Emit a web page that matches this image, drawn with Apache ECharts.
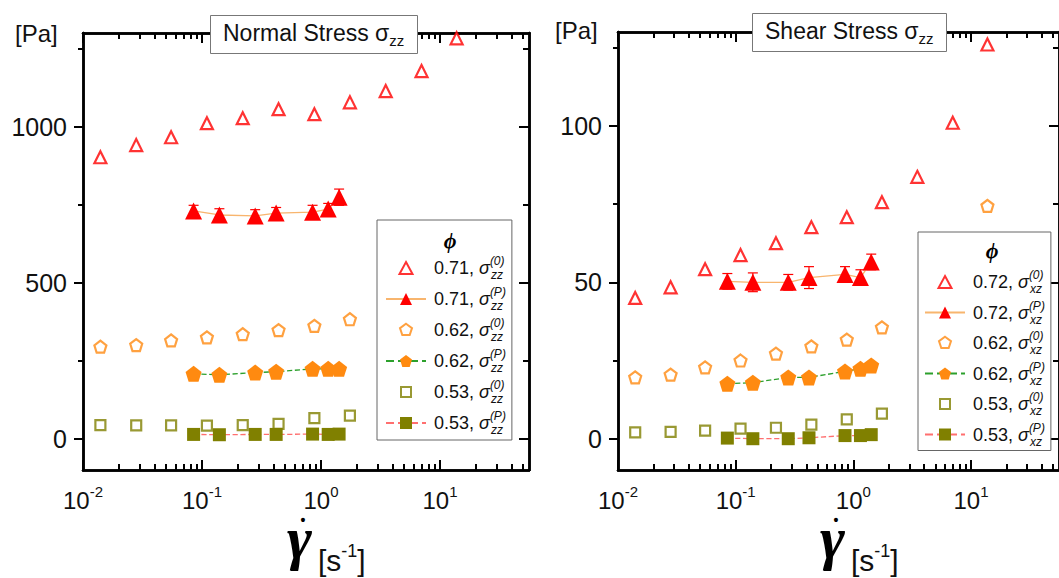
<!DOCTYPE html>
<html>
<head>
<meta charset="utf-8">
<script src="https://cdn.jsdelivr.net/npm/echarts@6/dist/echarts.min.js"></script>
<style>
html, body { margin: 0; padding: 0; background: #fff; }
#chart { width: 1059px; height: 578px; }
</style>
</head>
<body>
<div id="chart"></div>
<script>
// shear rate of the sweep points and of the pre-sheared points [1/s]
var rateSweep = [0.014, 0.028, 0.055, 0.11, 0.22, 0.44, 0.88, 1.75, 3.5, 7.0, 13.8];
var ratePre = [0.085, 0.14, 0.28, 0.42, 0.85, 1.15, 1.42];
var rateSweepXz62 = [0.014, 0.028, 0.055, 0.11, 0.22, 0.44, 0.88, 1.75, 13.8];

// normal stress sigma_zz [Pa]
var zz71Sweep = [902, 941, 966, 1011, 1027, 1056, 1040, 1078, 1114, 1178, 1283];
var zz71Pre = [730, 717, 714, 723, 726, 736, 774];
var zz71PreErr = [18, 20, 20, 18, 22, 18, 26];
var zz62Sweep = [295, 300, 315, 325, 335, 348, 362, 383];
var zz62Pre = [208, 205, 212, 215, 224, 224, 224];
var zz53Sweep = [44, 43, 43, 42, 44, 48, 66, 74];
var zz53Pre = [14, 13, 14, 14, 15, 14, 15];

// shear stress sigma_xz [Pa]
var xz72Sweep = [45, 48.4, 54.2, 58.7, 62.5, 67.6, 70.8, 75.6, 83.7, 101, 126];
var xz72Pre = [50.3, 50, 50, 51.5, 52.5, 51.5, 56.5];
var xz72PreErr = [2.5, 3, 2.5, 3.5, 2.5, 2.5, 2.5];
var xz62Sweep = [19.6, 20.5, 22.8, 25, 27.2, 29.5, 31.7, 35.6, 74.4];
var xz62Pre = [17.6, 17.9, 19.6, 19.6, 21.5, 22.4, 23.4];
var xz53Sweep = [2.0, 2.2, 2.6, 3.2, 3.5, 4.5, 6.2, 8.0];
var xz53Pre = [0.2, 0, 0, 0.3, 1.0, 1.0, 1.3];

// axis ticks
var decadeTicks = [0.01, 0.1, 1, 10];
var decadeMinor = [0.02, 0.03, 0.04, 0.05, 0.06, 0.07, 0.08, 0.09,
                   0.2, 0.3, 0.4, 0.5, 0.6, 0.7, 0.8, 0.9,
                   2, 3, 4, 5, 6, 7, 8, 9, 20, 30, 40, 50];
var zzMajor = [0, 500, 1000], zzMinor = [250, 750, 1250];
var xzMajor = [0, 50, 100], xzMinor = [25, 75, 125];

var legendLabels = {
  zz71s: ['0.71', '(0)', 'zz'], zz71p: ['0.71', '(P)', 'zz'],
  zz62s: ['0.62', '(0)', 'zz'], zz62p: ['0.62', '(P)', 'zz'],
  zz53s: ['0.53', '(0)', 'zz'], zz53p: ['0.53', '(P)', 'zz'],
  xz72s: ['0.72', '(0)', 'xz'], xz72p: ['0.72', '(P)', 'xz'],
  xz62s: ['0.62', '(0)', 'xz'], xz62p: ['0.62', '(P)', 'xz'],
  xz53s: ['0.53', '(0)', 'xz'], xz53p: ['0.53', '(P)', 'xz']
};

var RATE_MIN = 0.01, RATE_MAX = 56;
var FONT = '"Liberation Sans", Arial, sans-serif';
var RED = '#ff0000', ORANGE = '#ff8a10', OLIVE = '#808000';
var pentagon = 'path://M50,0L97.55,34.55L79.39,90.45L20.61,90.45L2.45,34.55Z';

// legend icons for the open symbols, padded to the 40x15 legend box so they are not stretched
var iconTriangle = 'path://M0,0M400,150M200,15L265,135L135,135Z';
var iconPentagon = 'path://M0,0M400,150M200,12L260,56L237,126L163,126L140,56Z';
var iconSquare = 'path://M0,0M400,150M150,25L250,25L250,125L150,125Z';
var legendIcons = {
  zz71s: iconTriangle, zz62s: iconPentagon, zz53s: iconSquare,
  xz72s: iconTriangle, xz62s: iconPentagon, xz53s: iconSquare
};

function pairs(xs, ys) { return xs.map(function (x, i) { return [x, ys[i]]; }); }
function triples(xs, ys, es) { return xs.map(function (x, i) { return [x, ys[i], es[i]]; }); }
function lg(v) { return Math.log10(v); }

var chart = echarts.init(document.getElementById('chart'), null, { renderer: 'svg' });

var frameLine = { show: true, onZero: false, lineStyle: { color: '#000', width: 2.5 } };

// x axes: 5 per grid (data log axis + tick decoration in log space)
function xTicks(g, pos, ticks, len, labels) {
  return {
    type: 'value', gridIndex: g, position: pos,
    min: lg(RATE_MIN), max: lg(RATE_MAX),
    axisLine: frameLine,
    axisTick: { show: true, inside: true, length: len, customValues: ticks.map(lg),
                lineStyle: { color: '#000', width: 2 } },
    axisLabel: labels ? {
      show: true, customValues: decadeTicks.map(lg), margin: 14, color: '#111',
      formatter: function (v) { return '{b|10}{sup|' + Math.round(v) + '}'; },
      rich: {
        b: { fontSize: 24, lineHeight: 32, fontFamily: FONT, color: '#111' },
        sup: { fontSize: 15, lineHeight: 16, verticalAlign: 'top', fontFamily: FONT, color: '#111' }
      }
    } : { show: false },
    splitLine: { show: false }
  };
}
var xAxes = [];
[0, 1].forEach(function (g) {
  xAxes.push({ type: 'log', logBase: 10, gridIndex: g, min: RATE_MIN, max: RATE_MAX, show: false });
  xAxes.push(xTicks(g, 'bottom', decadeTicks, 10, true));
  xAxes.push(xTicks(g, 'bottom', decadeMinor, 6, false));
  xAxes.push(xTicks(g, 'top', decadeTicks, 10, false));
  xAxes.push(xTicks(g, 'top', decadeMinor, 6, false));
});

// y axes: 4 per grid
function yAx(g, pos, min, max, ticks, len, inside, labels) {
  return {
    type: 'value', gridIndex: g, position: pos, min: min, max: max,
    axisLine: frameLine,
    axisTick: { show: true, inside: inside, length: len, customValues: ticks,
                lineStyle: { color: '#000', width: 2 } },
    axisLabel: labels ? { show: true, customValues: ticks, margin: 16, fontSize: 25,
                          fontFamily: FONT, color: '#111',
                          formatter: function (v) { return String(v); } } : { show: false },
    splitLine: { show: false }
  };
}
var yAxes = [
  yAx(0, 'left', -100, 1300, zzMajor, 9, false, true),
  yAx(0, 'left', -100, 1300, zzMinor, 5, false, false),
  yAx(0, 'right', -100, 1300, zzMajor, 10, true, false),
  yAx(0, 'right', -100, 1300, zzMinor, 6, true, false),
  yAx(1, 'left', -10, 130, xzMajor, 9, false, true),
  yAx(1, 'left', -10, 130, xzMinor, 5, false, false),
  yAx(1, 'right', -10, 130, xzMajor, 10, true, false),
  yAx(1, 'right', -10, 130, xzMinor, 6, true, false)
];

function sweep(name, g, data, symbol, size, color) {
  return {
    name: name, type: 'scatter', xAxisIndex: g * 5, yAxisIndex: g * 4, data: data,
    symbol: symbol, symbolSize: size, z: 3,
    itemStyle: { color: '#fff', borderColor: color, borderWidth: 2.2 }
  };
}
function pre(name, g, data, symbol, size, color, lineColor, lineType) {
  return {
    name: name, type: 'line', xAxisIndex: g * 5, yAxisIndex: g * 4, data: data,
    symbol: symbol, symbolSize: size, showSymbol: true, z: 4,
    itemStyle: { color: color },
    lineStyle: { color: lineColor, width: 1.3, type: lineType }
  };
}
function errorBars(g, data, color) {
  return {
    type: 'custom', xAxisIndex: g * 5, yAxisIndex: g * 4, data: data, z: 3, silent: true,
    renderItem: function (params, api) {
      var x = api.value(0), y = api.value(1), e = api.value(2);
      var hi = api.coord([x, y + e]), lo = api.coord([x, y - e]);
      var w = 5, st = { stroke: color, lineWidth: 1.2 };
      return { type: 'group', children: [
        { type: 'line', shape: { x1: hi[0], y1: hi[1], x2: lo[0], y2: lo[1] }, style: st },
        { type: 'line', shape: { x1: hi[0] - w, y1: hi[1], x2: hi[0] + w, y2: hi[1] }, style: st },
        { type: 'line', shape: { x1: lo[0] - w, y1: lo[1], x2: lo[0] + w, y2: lo[1] }, style: st }
      ] };
    }
  };
}

var series = [
  sweep('zz71s', 0, pairs(rateSweep, zz71Sweep), 'triangle', 12, RED),
  errorBars(0, triples(ratePre, zz71Pre, zz71PreErr), RED),
  pre('zz71p', 0, pairs(ratePre, zz71Pre), 'triangle', 17, RED, '#f8b56e', 'solid'),
  sweep('zz62s', 0, pairs(rateSweep.slice(0, 8), zz62Sweep), pentagon, 12, ORANGE),
  pre('zz62p', 0, pairs(ratePre, zz62Pre), pentagon, 16, ORANGE, '#2ca02c', 'dashed'),
  sweep('zz53s', 0, pairs(rateSweep.slice(0, 8), zz53Sweep), 'rect', 10, OLIVE),
  pre('zz53p', 0, pairs(ratePre, zz53Pre), 'rect', 13, OLIVE, '#ff6f6f', 'dashed'),

  sweep('xz72s', 1, pairs(rateSweep, xz72Sweep), 'triangle', 12, RED),
  errorBars(1, triples(ratePre, xz72Pre, xz72PreErr), RED),
  pre('xz72p', 1, pairs(ratePre, xz72Pre), 'triangle', 17, RED, '#f8b56e', 'solid'),
  sweep('xz62s', 1, pairs(rateSweepXz62, xz62Sweep), pentagon, 12, ORANGE),
  pre('xz62p', 1, pairs(ratePre, xz62Pre), pentagon, 16, ORANGE, '#2ca02c', 'dashed'),
  sweep('xz53s', 1, pairs(rateSweep.slice(0, 8), xz53Sweep), 'rect', 10, OLIVE),
  pre('xz53p', 1, pairs(ratePre, xz53Pre), 'rect', 13, OLIVE, '#ff6f6f', 'dashed')
];

function legendFor(names, left, top, padding, gap) {
  return {
    orient: 'vertical', left: left, top: top, padding: padding,
    itemWidth: 40, itemHeight: 15, itemGap: gap, selectedMode: false,
    data: names.map(function (n) { return legendIcons[n] ? { name: n, icon: legendIcons[n] } : { name: n }; }),
    backgroundColor: '#fff', borderColor: '#666', borderWidth: 1,
    formatter: function (name) {
      var t = legendLabels[name];
      return '{n|' + t[0] + ', }{s|σ}{sup|' + t[1] + '}{sub|' + t[2] + '}';
    },
    textStyle: {
      rich: {
        n: { fontSize: 18, lineHeight: 26, fontFamily: FONT, color: '#111', padding: [0, 0, 0, 3] },
        s: { fontSize: 18, lineHeight: 26, fontFamily: FONT, fontStyle: 'italic', color: '#111' },
        sup: { fontSize: 12, lineHeight: 12, verticalAlign: 'top', fontStyle: 'italic',
               fontFamily: FONT, color: '#111', width: 1 },
        sub: { fontSize: 12, lineHeight: 12, verticalAlign: 'bottom', fontStyle: 'italic',
               fontFamily: FONT, color: '#111' }
      }
    }
  };
}

function titleFor(text, left, top) {
  return {
    text: '{t|' + text + ' σ}{sub|zz}', left: left, top: top, padding: [6, 13, 6, 13],
    backgroundColor: '#fff', borderColor: '#777', borderWidth: 1,
    textStyle: {
      fontWeight: 'normal',
      rich: {
        t: { fontSize: 23, lineHeight: 31, fontWeight: 'normal', fontFamily: FONT, color: '#111' },
        sub: { fontSize: 15, lineHeight: 14, fontWeight: 'normal', verticalAlign: 'bottom', fontFamily: FONT, color: '#111' }
      }
    }
  };
}

// rate symbol: dot over an italic gamma, then the unit
function gammaLabel(x) {
  return [
    { type: 'text', x: x + 16, y: 520, z: 100,
      style: { text: '•', font: 'bold 14px ' + FONT, lineHeight: 12, fill: '#000',
               textAlign: 'center', textVerticalAlign: 'middle' } },
    { type: 'text', x: x, y: 538, z: 100,
      style: { text: 'γ', font: 'italic bold 60px "Liberation Serif", serif', lineHeight: 24,
               fill: '#000', textVerticalAlign: 'middle' } },
    { type: 'text', x: x + 31, y: 560, z: 100,
      style: { text: '{a|[s}{sup|-1}{a|]}', textVerticalAlign: 'middle',
        rich: {
          a: { fontSize: 30, lineHeight: 36, fontFamily: FONT, fill: '#111' },
          sup: { fontSize: 18, lineHeight: 18, verticalAlign: 'top', fontFamily: FONT, fill: '#111' }
        } } }
  ];
}

var graphics = [
  { type: 'text', x: 15, y: 33, z: 100, style: { text: '[Pa]', font: '24px ' + FONT, fill: '#111', textVerticalAlign: 'middle' } },
  { type: 'text', x: 555, y: 30, z: 100, style: { text: '[Pa]', font: '24px ' + FONT, fill: '#111', textVerticalAlign: 'middle' } },
  { type: 'text', x: 450, y: 240, z: 100, style: { text: 'ϕ', font: 'italic bold 22px "Liberation Serif", serif', fill: '#000', textAlign: 'center', textVerticalAlign: 'middle' } },
  { type: 'text', x: 992, y: 250, z: 100, style: { text: 'ϕ', font: 'italic bold 22px "Liberation Serif", serif', fill: '#000', textAlign: 'center', textVerticalAlign: 'middle' } }
].concat(gammaLabel(287)).concat(gammaLabel(820));

chart.setOption({
  animation: false,
  backgroundColor: '#fff',
  textStyle: { fontFamily: FONT },
  title: [titleFor('Normal Stress', 210, 11), titleFor('Shear Stress', 752, 9)],
  grid: [
    { left: 83, top: 33, width: 446, height: 437 },
    { left: 618, top: 32, width: 446, height: 438 }
  ],
  xAxis: xAxes,
  yAxis: yAxes,
  legend: [
    legendFor(['zz71s', 'zz71p', 'zz62s', 'zz62p', 'zz53s', 'zz53p'], 377, 220, [35, 6, 4, 8], 5),
    legendFor(['xz72s', 'xz72p', 'xz62s', 'xz62p', 'xz53s', 'xz53p'], 918, 232, [37, 6, 3, 6], 4.5)
  ],
  series: series,
  graphic: graphics
});
</script>
</body>
</html>
